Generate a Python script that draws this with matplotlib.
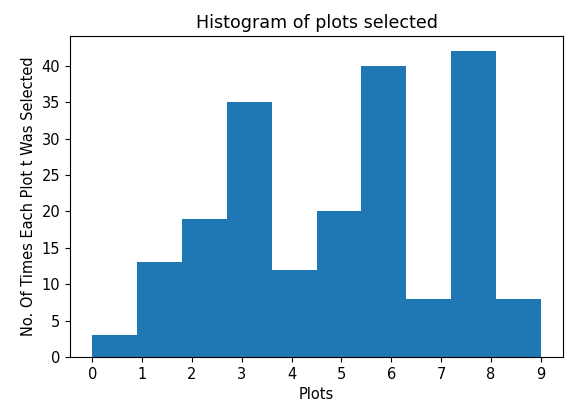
import matplotlib
matplotlib.use("Agg")
import matplotlib.pyplot as plt
import numpy as np

# Plot numbers and how many times each was selected
plots = [0, 1, 2, 3, 4, 5, 6, 7, 8, 9]
counts = [3, 13, 19, 35, 12, 20, 40, 8, 42, 8]

fig = plt.figure(figsize=(5.67, 4.03), dpi=100)
ax = fig.add_axes([0.1235, 0.114, 0.8695, 0.797])

ax.hist(plots, bins=10, weights=counts, color='#1f77b4')
ax.set_xticks(range(10))
ax.set_title('Histogram of plots selected', fontsize=12.6)
ax.set_xlabel('Plots', fontsize=10.5)
ax.set_ylabel('No. Of Times Each Plot t Was Selected', fontsize=10.5)
ax.tick_params(labelsize=10.5)

fig.savefig('out.png', dpi=100)
